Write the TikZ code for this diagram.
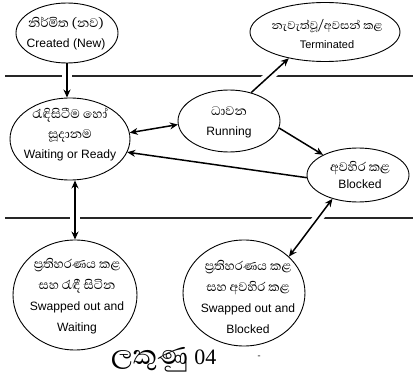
\documentclass[tikz,border=0pt]{standalone}
\usepackage{fontspec}
\usetikzlibrary{arrows.meta,shapes.geometric}
\newfontfamily\sinhalafont[Script=Sinhala,Scale=1.45]{Abhaya Libre}
\newfontfamily\captionfont[Script=Sinhala,Scale=1.7]{Abhaya Libre}
\newfontfamily\latinfont[Scale=1.1]{Liberation Sans}
\newfontfamily\digitfont{Liberation Serif}

\begin{document}
\begin{tikzpicture}[x=1pt,y=-1pt,
  state/.style={ellipse, draw, line width=0.9pt, inner sep=0pt},
  statetext/.style={align=center, inner sep=0pt, font=\fontsize{11}{20}\selectfont},
  flow/.style={line width=1.5pt, -{Stealth[length=8pt,width=7pt]}},
  twoway/.style={line width=1.5pt, {Stealth[length=8pt,width=7pt]}-{Stealth[length=8pt,width=7pt]}},
  halo/.style={draw=white, line width=10pt, shorten <=12pt, shorten >=12pt},
  divider/.style={line width=1.1pt, draw=black!85}]
\useasboundingbox (0,0) rectangle (413,377);

% memory-level dividers
\draw[divider] (5,76) -- (413,76);
\draw[divider] (5,218) -- (413,218);

% states
\node[state, minimum width=102pt, minimum height=60pt]  (created)   at (67,33)  {};
\node[state, minimum width=150pt, minimum height=59pt]  (terminated) at (325,32) {};
\node[state, minimum width=120pt, minimum height=82pt]  (waiting)   at (70,139) {};
\node[state, minimum width=102pt, minimum height=62pt]  (running)   at (229,121) {};
\node[state, minimum width=102pt, minimum height=54pt]  (blocked)   at (358,175) {};
\node[state, minimum width=124pt, minimum height=110pt] (swapwait)  at (75,295) {};
\node[state, minimum width=122pt, minimum height=106pt] (swapblock) at (244,293) {};

% gaps in the dividers where transitions cross them
\draw[halo] (created.south) -- (created.south |- waiting.north);
\draw[halo] (running.52) -- (terminated.216);
\draw[halo] (swapwait.north) -- (swapwait.north |- waiting.south);
\draw[halo] (blocked.223) -- (swapblock.39);

% transitions
\draw[flow] (created.south) -- (created.south |- waiting.north);
\draw[twoway] (waiting.6) -- (running.184);
\draw[flow] (blocked.183) -- (waiting.-13);
\draw[flow] (running.-8) -- (blocked.150);
\draw[flow] (running.52) -- (terminated.216);
\draw[twoway] (swapwait.north) -- (swapwait.north |- waiting.south);
\draw[twoway] (blocked.223) -- (swapblock.39);

% state labels
\node[statetext] (createdtext) at (66,34)
  {{\sinhalafont නිර්මිත (නව)}\\{\latinfont Created (New)}};
\node[statetext, font=\fontsize{10}{18.5}\selectfont] (terminatedtext) at (327,34)
  {{\sinhalafont නැවැත්වූ/අවසන් කළ}\\{\latinfont Terminated}};
\node[statetext] (waitingtext) at (70,135)
  {{\sinhalafont රැඳිසිටීම හෝ}\\{\sinhalafont සූදානම}\\{\latinfont Waiting or Ready}};
\node[statetext] (runningtext) at (229,122)
  {{\sinhalafont ධාවන}\\{\latinfont Running}};
\node[statetext, font=\fontsize{11}{17}\selectfont] (blockedtext) at (360,175)
  {{\sinhalafont අවහිර කළ}\\{\latinfont Blocked}};
\node[statetext, font=\fontsize{11}{21}\selectfont] (swapwaittext) at (77,296)
  {{\sinhalafont ප්^^^^200dරතිහරණය කළ}\\{\sinhalafont සහ රැඳී සිටින}\\{\latinfont Swapped out and}\\{\latinfont Waiting}};
\node[statetext, font=\fontsize{11}{21}\selectfont] (swapblocktext) at (248,297)
  {{\sinhalafont ප්^^^^200dරතිහරණය කළ}\\{\sinhalafont සහ අවහිර කළ}\\{\latinfont Swapped out and}\\{\latinfont Blocked}};

% figure caption
\node[anchor=base west, inner sep=0pt] (caption) at (111,364)
  {\fontsize{20}{24}\selectfont{\captionfont ලකුණු}\ {\fontsize{22}{24}\selectfont\digitfont 04}};
\node[inner sep=0pt] (dash) at (259,357) {\fontsize{9}{9}\selectfont\digitfont -};
\end{tikzpicture}
\end{document}
